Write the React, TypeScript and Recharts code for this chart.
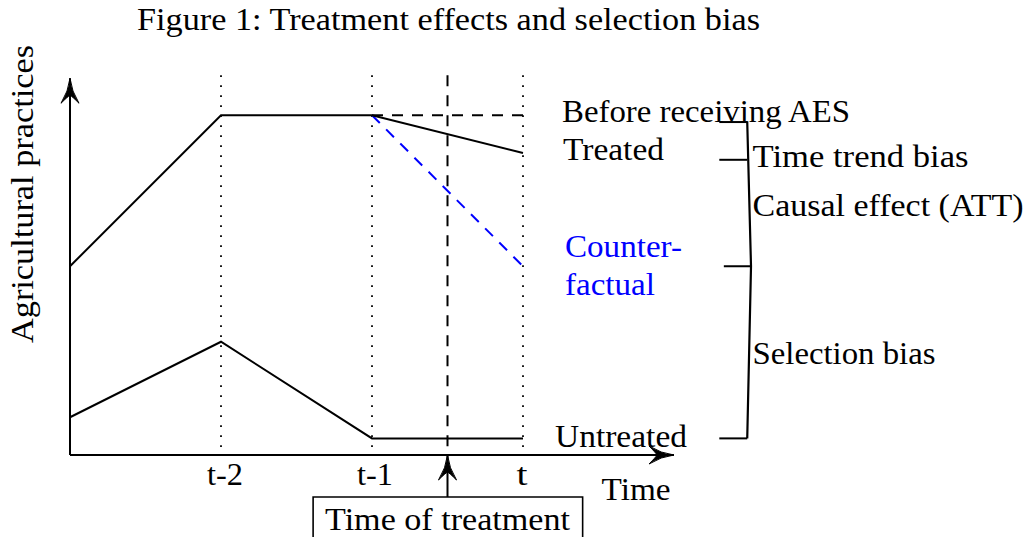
import {
  ComposedChart, Line, XAxis, YAxis, ReferenceLine, ReferenceDot, ReferenceArea,
} from 'recharts';

// figure units: 1 unit = 75.5px, origin of axes at (70, 455)
const UNIT = 75.5;
const X_MIN = -70 / UNIT;
const X_MAX = (1031 - 70) / UNIT;
const Y_MIN = -(537 - 455) / UNIT;
const Y_MAX = 455 / UNIT;

const TIME = [0, 2, 4, 6];
const TREATED = [2.5, 4.5, 4.5, 4.0];
const UNTREATED = [0.5, 1.5, 0.22, 0.22];
const POST_TIME = [4, 6];
const BEFORE_AES = [4.5, 4.5];
const COUNTERFACTUAL = [4.5, 2.5];
const TICK_POS = [2, 4, 6];
const TICK_LABELS = ['t-2', 't-1', 't'];
const TREATMENT_TIME = 5;
const BRACE_LEVELS = [4.41, 3.91, 2.5, 0.22];

const FONT = 'Liberation Serif, serif';

const toPts = (xs: number[], ys: number[]) => xs.map((x, i) => ({ x, y: ys[i] }));

type Lbl = { x: number; y: number; text: string; anchor?: 'start' | 'middle'; color?: string; len?: number; rotate?: boolean };

const LABELS: Lbl[] = [
  { x: 5.013, y: 5.63, text: 'Figure 1: Treatment effects and selection bias', anchor: 'middle', len: 623 },
  { x: -0.49, y: 3.457, text: 'Agricultural practices', anchor: 'middle', len: 298, rotate: true },
  { x: 6.517, y: 4.406, text: 'Before receiving AES', len: 288 },
  { x: 6.53, y: 3.907, text: 'Treated', len: 101 },
  { x: 6.556, y: 2.623, text: 'Counter-', color: '#0000ff', len: 117 },
  { x: 6.556, y: 2.119, text: 'factual', color: '#0000ff', len: 90 },
  { x: 6.424, y: 0.106, text: 'Untreated', len: 132 },
  { x: 9.04, y: 3.815, text: 'Time trend bias', len: 216 },
  { x: 9.04, y: 3.166, text: 'Causal effect (ATT)', len: 271 },
  { x: 9.04, y: 1.205, text: 'Selection bias', len: 183 },
  { x: 7.04, y: -0.596, text: 'Time', len: 69 },
  { x: 5.0, y: -0.993, text: 'Time of treatment', anchor: 'middle', len: 245 },
];

// arrow head pointing up in local coordinates, tip at (0,0)
function ArrowHead({ cx, cy, angle }: { cx: number; cy: number; angle: number }) {
  return (
    <path
      transform={`translate(${cx},${cy}) rotate(${angle})`}
      d="M0,0 Q1.5,13 9,25 Q2,18 0,17 Q-2,18 -9,25 Q-1.5,13 0,0 Z"
      fill="#000"
      stroke="#000"
      strokeWidth={1}
    />
  );
}

const arrowDot = (last: number, angle: number) => (p: any) =>
  p.index === last
    ? <ArrowHead key={p.key ?? `a${p.index}`} cx={p.cx} cy={p.cy} angle={angle} />
    : <g key={p.key ?? `d${p.index}`} />;

function renderLabel(l: Lbl, i: number) {
  return (
    <ReferenceDot
      key={`lbl${i}`}
      x={l.x}
      y={l.y}
      r={0}
      ifOverflow="visible"
      shape={(p: any) => (
        <text
          x={p.cx}
          y={p.cy}
          fontFamily={FONT}
          fontSize={31.5}
          fill={l.color ?? '#000'}
          textAnchor={l.anchor ?? 'start'}
          textLength={l.len}
          lengthAdjust="spacingAndGlyphs"
          transform={l.rotate ? `rotate(-90 ${p.cx} ${p.cy})` : undefined}
        >
          {l.text}
        </text>
      )}
    />
  );
}

export default function App() {
  return (
    <div style={{ position: 'absolute', left: 0, top: 0, width: 1031, height: 537, background: '#fff' }}>
      <ComposedChart width={1031} height={537} margin={{ top: 0, right: 0, bottom: 0, left: 0 }}>
        <XAxis type="number" dataKey="x" domain={[X_MIN, X_MAX]} allowDataOverflow hide />
        <YAxis type="number" dataKey="y" domain={[Y_MIN, Y_MAX]} allowDataOverflow hide />

        {/* dotted guides at t-2, t-1, t */}
        {TICK_POS.map((t) => (
          <ReferenceLine
            key={`g${t}`}
            segment={[{ x: t, y: 5.03 }, { x: t, y: 0 }]}
            stroke="#000"
            strokeWidth={1.8}
            strokeDasharray="1.8 8.2"
            ifOverflow="visible"
          />
        ))}

        {/* time of treatment */}
        <ReferenceLine
          segment={[{ x: TREATMENT_TIME, y: 5.03 }, { x: TREATMENT_TIME, y: 0 }]}
          stroke="#000"
          strokeWidth={2}
          strokeDasharray="11 9"
          ifOverflow="visible"
        />
        <ReferenceArea
          x1={3.22}
          x2={6.79}
          y1={-1.3}
          y2={-0.556}
          fill="#fff"
          fillOpacity={1}
          stroke="#000"
          strokeWidth={1.6}
          ifOverflow="visible"
        />
        <Line
          data={[{ x: TREATMENT_TIME, y: -0.556 }, { x: TREATMENT_TIME, y: 0 }]}
          dataKey="y"
          stroke="#000"
          strokeWidth={2}
          dot={arrowDot(1, 0)}
          activeDot={false}
          isAnimationActive={false}
        />

        {/* axes */}
        <Line
          data={[{ x: 0, y: 0 }, { x: 8, y: 0 }]}
          dataKey="y"
          stroke="#000"
          strokeWidth={2}
          dot={arrowDot(1, 90)}
          activeDot={false}
          isAnimationActive={false}
        />
        <Line
          data={[{ x: 0, y: 0 }, { x: 0, y: 4.99 }]}
          dataKey="y"
          stroke="#000"
          strokeWidth={2}
          dot={arrowDot(1, 0)}
          activeDot={false}
          isAnimationActive={false}
        />

        {/* series */}
        <Line data={toPts(POST_TIME, BEFORE_AES)} dataKey="y" type="linear" stroke="#000" strokeWidth={2}
          strokeDasharray="11 9" dot={false} activeDot={false} isAnimationActive={false} />
        <Line data={toPts(POST_TIME, COUNTERFACTUAL)} dataKey="y" type="linear" stroke="#0000ff" strokeWidth={2}
          strokeDasharray="11 9" dot={false} activeDot={false} isAnimationActive={false} />
        <Line data={toPts(TIME, TREATED)} dataKey="y" type="linear" stroke="#000" strokeWidth={2}
          dot={false} activeDot={false} isAnimationActive={false} />
        <Line data={toPts(TIME, UNTREATED)} dataKey="y" type="linear" stroke="#000" strokeWidth={2}
          dot={false} activeDot={false} isAnimationActive={false} />

        {/* brace on the right */}
        <Line
          data={toPts([8.97, 9.02, 8.97], [BRACE_LEVELS[0], BRACE_LEVELS[2], BRACE_LEVELS[3]])}
          dataKey="y"
          type="linear"
          stroke="#000"
          strokeWidth={2.2}
          dot={false}
          activeDot={false}
          isAnimationActive={false}
        />
        {BRACE_LEVELS.map((lv, i) => (
          <ReferenceLine
            key={`b${i}`}
            segment={[{ x: i === 2 ? 8.66 : 8.6, y: lv }, { x: i === 2 ? 9.02 : 8.97, y: lv }]}
            stroke="#000"
            strokeWidth={2}
            ifOverflow="visible"
          />
        ))}

        {/* tick labels */}
        {TICK_POS.map((t, i) =>
          renderLabel({ x: t + [0.053, 0.04, -0.013][i], y: -0.397, text: TICK_LABELS[i], anchor: 'middle', len: i === 2 ? 11 : 36 }, 100 + i),
        )}
        {LABELS.map((l, i) => renderLabel(l, i))}
      </ComposedChart>
    </div>
  );
}
